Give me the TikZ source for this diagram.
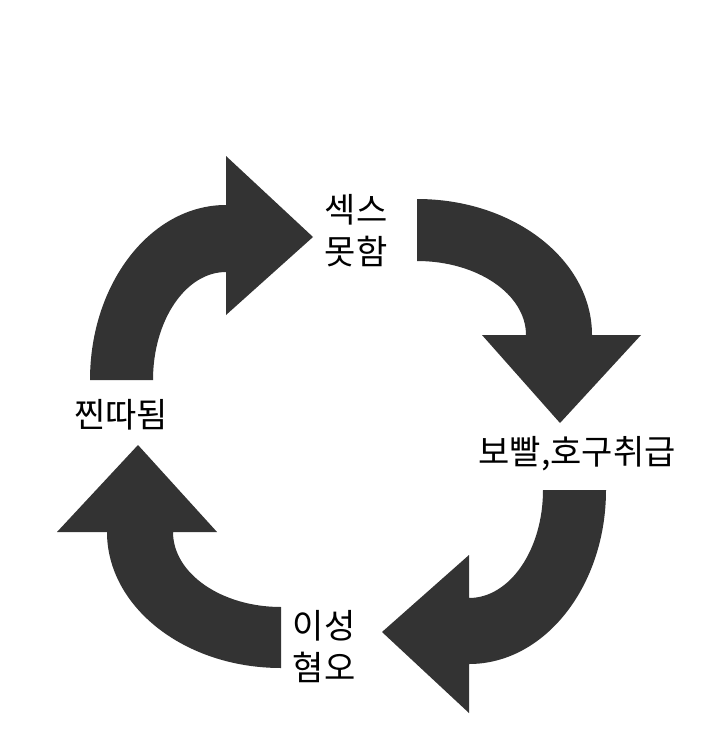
\documentclass[tikz,border=0pt]{standalone}
\usepackage{fontspec}
\newfontfamily\krfont{Noto Sans CJK KR}
\definecolor{arrowgray}{HTML}{333333}
\tikzset{
  blockarrow/.style={fill=arrowgray, draw=none},
  label/.style={font=\krfont\fontsize{34}{42}\selectfont, align=center, inner sep=0pt, text=black}
}
\begin{document}
\begin{tikzpicture}[x=1pt,y=-1pt]
\fill[white] (0,0) rectangle (718,749);
\useasboundingbox (0,0) rectangle (718,749);
% arrow 1: left -> top
\path[blockarrow] (90,380) arc[start angle=180,end angle=270,x radius=136,y radius=175]
  -- (226,156) -- (313,237) -- (226,315) -- (226,272)
  arc[start angle=270,end angle=180,x radius=73,y radius=108] -- cycle;
% arrow 2: top -> right
\path[blockarrow] (417,199) arc[start angle=270,end angle=360,x radius=175,y radius=136]
  -- (641,335) -- (560,423) -- (482,335) -- (526,335)
  arc[start angle=0,end angle=-90,x radius=109,y radius=74] -- cycle;
% arrow 3: right -> bottom
\path[blockarrow] (606,490) arc[start angle=0,end angle=90,x radius=137,y radius=174]
  -- (469,713) -- (382,632) -- (469,555) -- (469,598)
  arc[start angle=90,end angle=0,x radius=74,y radius=108] -- cycle;
% arrow 4: bottom -> left
\path[blockarrow] (281,668) arc[start angle=90,end angle=180,x radius=174,y radius=136]
  -- (57,532) -- (138,445) -- (217,532) -- (173,532)
  arc[start angle=180,end angle=90,x radius=108,y radius=75] -- cycle;
% labels
\node[label] (top) at (356,231) {섹스\\못함};
\node[label] (left) at (121,415) {찐따됨};
\node[label] (right) at (577,454) {보빨,호구취급};
\node[label] (bottom) at (324,647) {이성\\혐오};
\end{tikzpicture}
\end{document}
